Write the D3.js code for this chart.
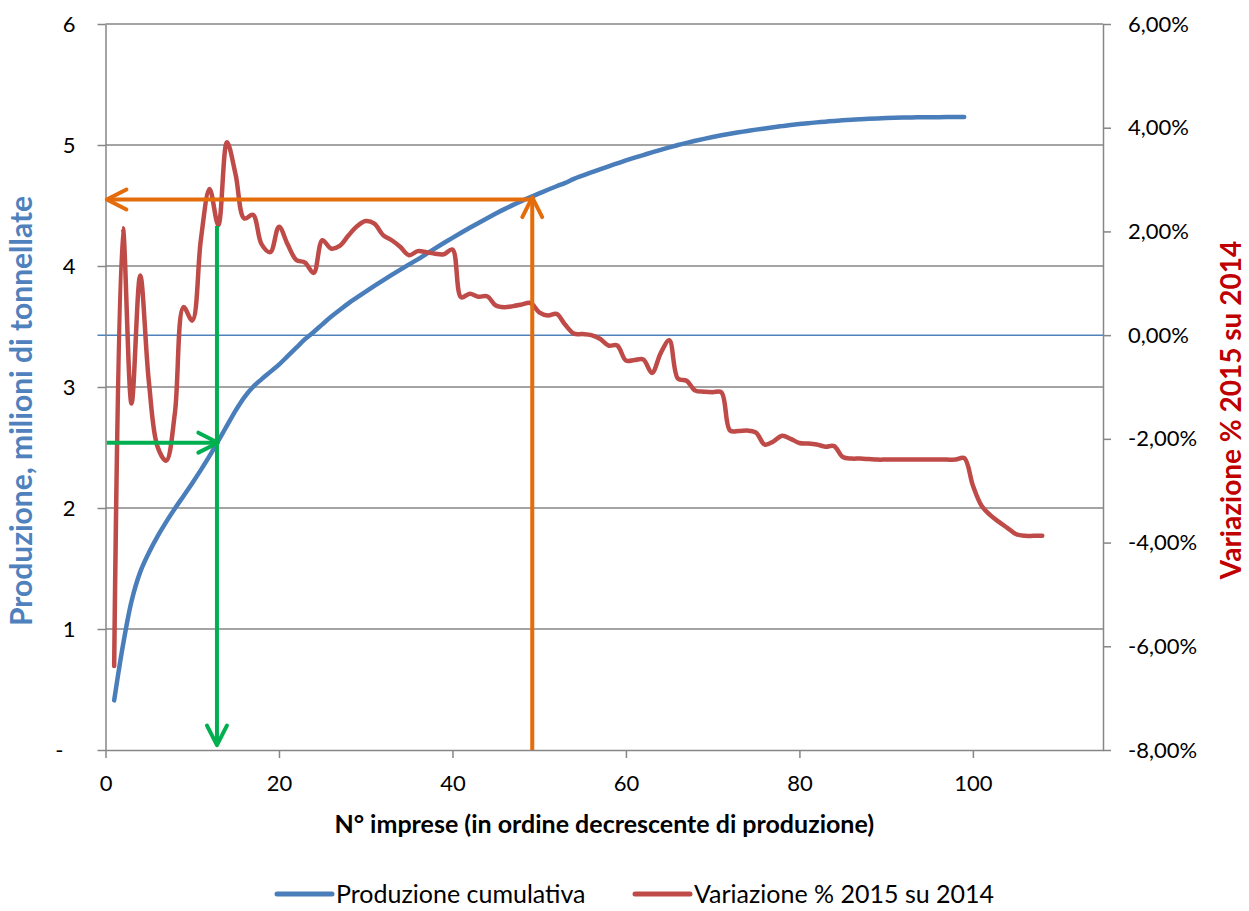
<!DOCTYPE html>
<html>
<head>
<meta charset="utf-8">
<script src="https://cdn.jsdelivr.net/npm/d3@7"></script>
<style>
  body { margin: 0; background: #fff; }
  svg { font-family: Lato, "Noto Sans", sans-serif; }
</style>
</head>
<body>
<div id="chart"></div>
<script>
// N° impresa (1..108) in ordine decrescente di produzione
const produzioneCumulativa = [
  0.410, 0.860, 1.230, 1.470, 1.630, 1.765, 1.885, 1.995, 2.100, 2.205,
  2.315, 2.430, 2.555, 2.680, 2.805, 2.915, 3.000, 3.065, 3.125, 3.185,
  3.255, 3.325, 3.395, 3.455, 3.518, 3.580, 3.636, 3.691, 3.740, 3.788,
  3.835, 3.881, 3.926, 3.970, 4.013, 4.055, 4.101, 4.146, 4.190, 4.233,
  4.275, 4.316, 4.356, 4.395, 4.433, 4.470, 4.505, 4.538, 4.570, 4.600,
  4.630, 4.659, 4.687, 4.720, 4.747, 4.773, 4.799, 4.824, 4.848, 4.872,
  4.895, 4.917, 4.939, 4.960, 4.980, 5.000, 5.018, 5.035, 5.051, 5.066,
  5.080, 5.093, 5.105, 5.116, 5.127, 5.137, 5.147, 5.156, 5.165, 5.173,
  5.180, 5.187, 5.193, 5.199, 5.204, 5.209, 5.213, 5.217, 5.220, 5.223,
  5.225, 5.227, 5.228, 5.229, 5.230, 5.230, 5.231, 5.231, 5.231
];

// variazione % 2015 su 2014
const variazione = [
  -6.38, 2.06, -1.32, 1.15, -0.90, -2.15, -2.42, -1.50, 0.54, 0.28,
  1.85, 2.82, 2.12, 3.72, 3.10, 2.25, 2.32, 1.75, 1.60, 2.09,
  1.75, 1.45, 1.40, 1.20, 1.83, 1.67, 1.72, 1.92, 2.10, 2.20,
  2.15, 1.93, 1.83, 1.70, 1.54, 1.62, 1.60, 1.57, 1.56, 1.65,
  0.73, 0.80, 0.74, 0.75, 0.57, 0.54, 0.56, 0.59, 0.62, 0.44,
  0.38, 0.41, 0.20, 0.03, 0.02, 0.00, -0.07, -0.20, -0.20, -0.49,
  -0.48, -0.47, -0.73, -0.35, -0.10, -0.84, -0.88, -1.07, -1.09, -1.10,
  -1.10, -1.84, -1.85, -1.84, -1.88, -2.11, -2.05, -1.94, -2.00, -2.08,
  -2.09, -2.11, -2.15, -2.14, -2.35, -2.38, -2.38, -2.39, -2.40, -2.40,
  -2.40, -2.40, -2.40, -2.40, -2.40, -2.40, -2.40, -2.40, -2.37, -2.90,
  -3.29, -3.47, -3.60, -3.72, -3.84, -3.87, -3.87, -3.87
];

const xTicks = [0, 20, 40, 60, 80, 100];
const leftTicks = [0, 1, 2, 3, 4, 5, 6];
const rightTicks = [-8, -6, -4, -2, 0, 2, 4, 6];
const seriesNames = ["Produzione cumulativa", "Variazione % 2015 su 2014"];

// frecce di lettura (n° imprese, milioni di t)
const frecciaArancio = { x: 49.2, y: 4.55 };
const frecciaVerde = { x: 12.85, y: 2.54, top: 4.33 };

const width = 1249, height = 911;
const margin = { top: 24, right: 146, bottom: 161, left: 105.5 };
const gray = "#868686";
const blue = "#4A7EBB", red = "#BE4B48", orange = "#E46C0A", green = "#00B050";

const svg = d3.select("#chart")
  .append("svg")
  .attr("width", width)
  .attr("height", height);

const x = d3.scaleLinear().domain([0, 115]).range([margin.left, width - margin.right]);
const yL = d3.scaleLinear().domain([0, 6]).range([height - margin.bottom, margin.top]);
const yR = d3.scaleLinear().domain([-8, 6]).range([height - margin.bottom, margin.top]);

// griglia orizzontale (asse sinistro)
svg.append("g")
  .selectAll("line")
  .data(leftTicks.filter(d => d > 0))
  .join("line")
  .attr("x1", x(0)).attr("x2", x(115))
  .attr("y1", d => yL(d)).attr("y2", d => yL(d))
  .attr("stroke", gray).attr("stroke-width", 1.5);

// linea dello zero percentuale
svg.append("line")
  .attr("x1", x(0) - 8).attr("x2", x(115))
  .attr("y1", yR(0)).attr("y2", yR(0))
  .attr("stroke", "#4F81BD").attr("stroke-width", 1.5);

const tickFont = g => g.selectAll("text")
  .attr("font-size", 22)
  .attr("fill", "#000")
  .attr("font-family", "Lato, 'Noto Sans', sans-serif");

const styleAxis = g => {
  g.select(".domain").attr("stroke", gray).attr("stroke-width", 1.5);
  g.selectAll(".tick line").attr("stroke", gray).attr("stroke-width", 1.5);
  tickFont(g);
};

svg.append("g")
  .attr("transform", `translate(0,${yL(0)})`)
  .call(d3.axisBottom(x).tickValues(xTicks).tickSize(8).tickSizeOuter(0).tickPadding(17))
  .call(styleAxis);

svg.append("g")
  .attr("transform", `translate(${x(0)},0)`)
  .call(d3.axisLeft(yL).tickValues(leftTicks).tickSize(8).tickSizeOuter(0).tickPadding(22)
    .tickFormat(d => d === 0 ? "-" : d))
  .call(styleAxis)
  .call(g => g.selectAll(".tick text").filter(d => d === 0).attr("dx", -12));

svg.append("g")
  .attr("transform", `translate(${x(115)},0)`)
  .call(d3.axisRight(yR).tickValues(rightTicks).tickSize(8).tickSizeOuter(0).tickPadding(17)
    .tickFormat(d => d.toFixed(2).replace(".", ",") + "%"))
  .call(styleAxis);

// serie
const lineL = d3.line()
  .x((d, i) => x(i + 1))
  .y(d => yL(d))
  .curve(d3.curveCatmullRom.alpha(0.5));

const lineR = d3.line()
  .x((d, i) => x(i + 1))
  .y(d => yR(d))
  .curve(d3.curveCatmullRom.alpha(0.5));

svg.append("path")
  .datum(produzioneCumulativa)
  .attr("d", lineL)
  .attr("fill", "none")
  .attr("stroke", blue)
  .attr("stroke-width", 4.5)
  .attr("stroke-linecap", "round")
  .attr("stroke-linejoin", "round");

svg.append("path")
  .datum(variazione)
  .attr("d", lineR)
  .attr("fill", "none")
  .attr("stroke", red)
  .attr("stroke-width", 4.5)
  .attr("stroke-linecap", "round")
  .attr("stroke-linejoin", "round");

// frecce
function arrow(x1, y1, x2, y2, color) {
  const a = Math.atan2(y2 - y1, x2 - x1);
  const len = 22, spread = 0.47;
  const g = svg.append("g")
    .attr("stroke", color).attr("stroke-width", 4)
    .attr("fill", "none").attr("stroke-linecap", "round").attr("stroke-linejoin", "round");
  g.append("line").attr("x1", x1).attr("y1", y1).attr("x2", x2).attr("y2", y2)
    .attr("stroke-linecap", "butt");
  g.append("path").attr("d", d3.line()([
    [x2 - len * Math.cos(a - spread), y2 - len * Math.sin(a - spread)],
    [x2, y2],
    [x2 - len * Math.cos(a + spread), y2 - len * Math.sin(a + spread)]
  ]));
}

arrow(x(frecciaArancio.x), yL(0), x(frecciaArancio.x), yL(frecciaArancio.y) - 2, orange);
arrow(x(frecciaArancio.x), yL(frecciaArancio.y), x(0.15), yL(frecciaArancio.y), orange);
arrow(x(0.15), yL(frecciaVerde.y), x(frecciaVerde.x) + 1, yL(frecciaVerde.y), green);
arrow(x(frecciaVerde.x), yL(frecciaVerde.top), x(frecciaVerde.x), yL(0.04), green);

// titoli degli assi
svg.append("text")
  .attr("x", (x(0) + x(115)) / 2)
  .attr("y", 833)
  .attr("text-anchor", "middle")
  .attr("font-size", 25)
  .attr("font-weight", "bold")
  .text("N° imprese (in ordine decrescente di produzione)");

svg.append("text")
  .attr("transform", "translate(32,411) rotate(-90)")
  .attr("text-anchor", "middle")
  .attr("font-size", 30)
  .attr("font-weight", "bold")
  .attr("fill", "#4F81BD")
  .text("Produzione, milioni di tonnellate");

svg.append("text")
  .attr("transform", "translate(1241,410) rotate(-90)")
  .attr("text-anchor", "middle")
  .attr("font-size", 28)
  .attr("font-weight", "bold")
  .attr("fill", "#C00000")
  .text("Variazione % 2015 su 2014");

// legenda
const legend = svg.append("g")
  .selectAll("g")
  .data(seriesNames)
  .join("g")
  .attr("transform", (d, i) => `translate(${i === 0 ? 277 : 635},894)`);

legend.append("line")
  .attr("x1", 0).attr("x2", 55)
  .attr("stroke", (d, i) => i === 0 ? blue : red)
  .attr("stroke-width", 5)
  .attr("stroke-linecap", "round");

legend.append("text")
  .attr("x", 59)
  .attr("y", 9)
  .attr("font-size", 25)
  .text(d => d);
</script>
</body>
</html>
